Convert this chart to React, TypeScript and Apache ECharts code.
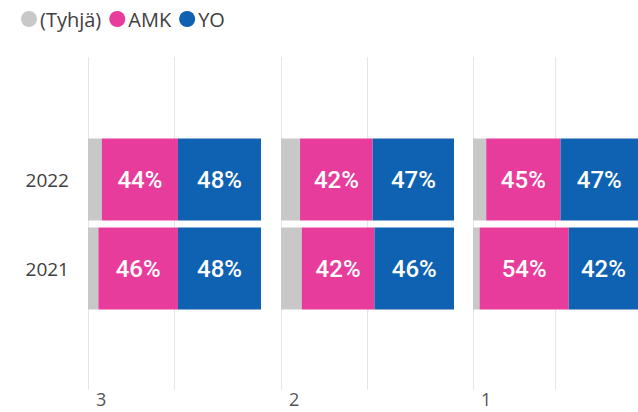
import React, { useEffect, useRef } from "react";
import * as echarts from "echarts";

const years = ["2021", "2022"];
const panelNames = ["3", "2", "1"];
const seriesNames = ["(Tyhjä)", "AMK", "YO"];
const seriesColors = ["#C8C8C8", "#E83C9C", "#0E62B1"];
// values per panel, ordered as years (2021, 2022)
const tyhja = [
  [6, 8],
  [12, 11],
  [4, 8],
];
const amk = [
  [46, 44],
  [42, 42],
  [54, 45],
];
const yo = [
  [48, 48],
  [46, 47],
  [42, 47],
];

const panelLefts = [88, 281, 473];
const panelWidth = 173;

export default function App() {
  const ref = useRef<HTMLDivElement>(null);
  useEffect(() => {
    if (!ref.current) return;
    const chart = echarts.init(ref.current, null, { renderer: "svg" });
    const grids: any[] = [];
    const xAxes: any[] = [];
    const yAxes: any[] = [];
    const series: any[] = [];
    const titles: any[] = [];
    const valuesBy = [tyhja, amk, yo];

    panelNames.forEach((p, i) => {
      grids.push({ left: panelLefts[i], width: panelWidth, top: 135, height: 178 });
      xAxes.push({
        type: "value",
        gridIndex: i,
        min: 0,
        max: 100,
        show: false,
        splitLine: { show: false },
      });
      yAxes.push({
        type: "category",
        gridIndex: i,
        data: years,
        axisLine: { show: false },
        axisTick: { show: false },
        splitLine: { show: false },
        axisLabel: {
          show: i === 0,
          margin: 19,
          color: "#404040",
          fontSize: 19,
          fontFamily: "Open Sans",
        },
      });
      seriesNames.forEach((name, s) => {
        series.push({
          type: "bar",
          name,
          stack: "p" + i,
          xAxisIndex: i,
          yAxisIndex: i,
          barWidth: 82,
          data: valuesBy[s][i],
          itemStyle: { color: seriesColors[s] },
          label: {
            show: s > 0,
            position: "inside",
            formatter: "{c}%",
            color: "#ffffff",
            fontSize: 24,
            fontFamily: "Roboto",
            fontWeight: 500,
          },
        });
      });
      titles.push({
        text: p,
        left: panelLefts[i] + 8,
        top: 390,
        padding: 0,
        textStyle: {
          fontSize: 18,
          lineHeight: 18,
          fontWeight: "normal",
          color: "#555555",
          fontFamily: "Open Sans",
        },
      });
    });

    panelNames.forEach((p, i) => {
      const gi = grids.length;
      grids.push({ left: panelLefts[i], width: panelWidth, top: 57, height: 333 });
      xAxes.push({
        type: "value",
        gridIndex: gi,
        min: 0,
        max: 100,
        interval: 50,
        axisLine: { show: false },
        axisTick: { show: false },
        axisLabel: { show: false },
        splitLine: {
          show: true,
          lineStyle: { color: ["#e6e6e6", "#e6e6e6", "rgba(0,0,0,0)"], width: 1 },
        },
        z: 0,
      });
      yAxes.push({
        type: "value",
        gridIndex: gi,
        min: 0,
        max: 1,
        show: false,
        splitLine: { show: false },
      });
    });

    chart.setOption({
      animation: false,
      backgroundColor: "#ffffff",
      title: titles,
      legend: {
        left: 16,
        top: 4,
        icon: "circle",
        itemWidth: 16,
        itemHeight: 16,
        itemGap: 8,
        data: seriesNames,
        textStyle: { fontSize: 20, color: "#404040", fontFamily: "Open Sans", padding: [0, 0, 0, -2] },
      },
      grid: grids,
      xAxis: xAxes,
      yAxis: yAxes,
      series,
    });
    return () => chart.dispose();
  }, []);
  return (
    <div
      ref={ref}
      style={{ position: "absolute", left: 0, top: 0, width: 638, height: 412, background: "#fff" }}
    />
  );
}
